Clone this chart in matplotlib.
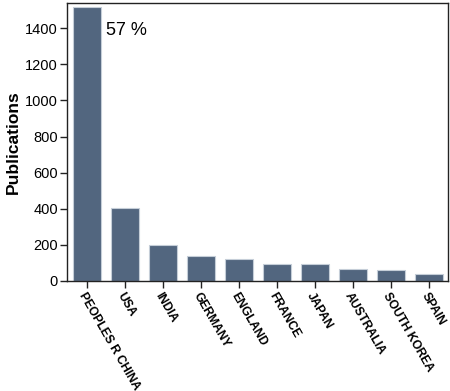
import matplotlib
matplotlib.use("Agg")
import matplotlib.pyplot as plt

countries = ["PEOPLES R CHINA", "USA", "INDIA", "GERMANY", "ENGLAND", "FRANCE",
             "JAPAN", "AUSTRALIA", "SOUTH KOREA", "SPAIN"]
publications = [1517, 406, 198, 137, 122, 94, 94, 66, 59, 40]
yticks = [0, 200, 400, 600, 800, 1000, 1200, 1400]
annotation = "57 %"

plt.rcParams['font.family'] = ['Liberation Sans', 'DejaVu Sans']

fig = plt.figure(figsize=(4.5, 3.91), dpi=100)
ax = fig.add_axes([67/450, 1-281/391, 381/450, 278/391])

x = list(range(len(countries)))
ax.bar(x, publications, width=0.74, color="#52667f", edgecolor="#c5ced8", linewidth=0.8)
ax.set_xlim(-0.52, len(countries) - 0.5)
ax.set_ylim(0, 1540)
ax.set_yticks(yticks)
ax.set_yticklabels([str(v) for v in yticks], fontsize=10.5)
ax.set_xticks(x)
ax.set_xticklabels(countries, rotation=-60, ha='left', va='top',
                   rotation_mode='anchor', fontsize=8.7, fontweight='bold')
ax.tick_params(axis='both', direction='out', length=5, width=1, color='#222222', pad=2)
ax.tick_params(axis='y', pad=1.5)
ax.set_ylabel("Publications", fontsize=12.5, fontweight='bold', labelpad=3)
for s in ax.spines.values():
    s.set_color('#222222')
    s.set_linewidth(1)

ax.text(0.5, 1390, annotation, fontsize=13, ha='left', va='center')

fig.savefig("out.png", dpi=100)
